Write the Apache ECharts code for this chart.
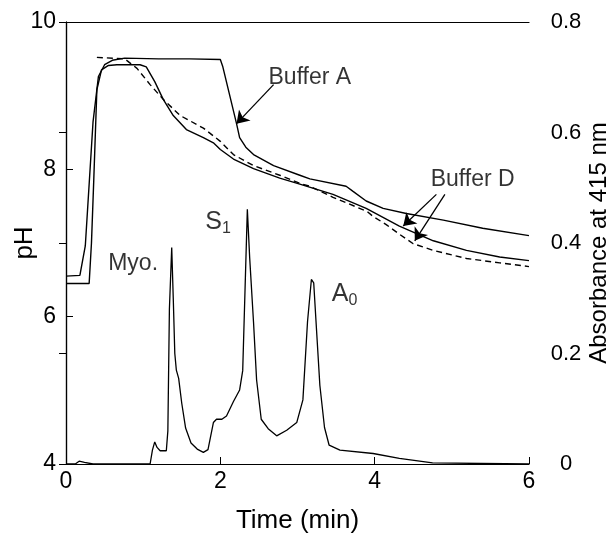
<!DOCTYPE html>
<html><head><meta charset="utf-8">
<script src="https://cdn.jsdelivr.net/npm/echarts@6/dist/echarts.min.js"></script>
<style>html,body{margin:0;padding:0;background:#fff}#c{width:613px;height:540px}</style>
</head><body><div id="c"></div>
<script>
// Time (min) vs pH — Buffer A (solid, upper)
const bufferA = [[0,6.55],[0.18,6.56],[0.25,6.96],[0.35,8.64],[0.42,9.26],[0.5,9.42],[0.6,9.48],[0.76,9.51],[1.2,9.5],[1.6,9.5],[2.0,9.49],[2.03,9.4],[2.21,8.62],[2.25,8.43],[2.33,8.3],[2.43,8.2],[2.69,8.05],[3.03,7.92],[3.16,7.87],[3.63,7.77],[3.72,7.7],[3.89,7.57],[4.11,7.47],[4.41,7.4],[4.89,7.31],[5.4,7.2],[6.0,7.1]];
// Buffer D (solid, middle)
const bufferDSolid = [[0,6.45],[0.3,6.45],[0.33,7.0],[0.36,7.86],[0.4,9.08],[0.46,9.35],[0.55,9.41],[0.66,9.42],[0.96,9.42],[1.04,9.39],[1.15,9.19],[1.26,8.95],[1.39,8.73],[1.56,8.54],[1.78,8.43],[1.91,8.36],[2.0,8.27],[2.17,8.14],[2.43,8.01],[2.77,7.88],[3.03,7.8],[3.46,7.66],[3.89,7.47],[4.32,7.23],[4.76,7.03],[5.19,6.9],[5.62,6.81],[6.0,6.76]];
// Buffer D (dashed)
const bufferDDashed = [[0.4,9.52],[0.76,9.5],[0.92,9.37],[1.09,9.15],[1.26,8.95],[1.48,8.73],[1.78,8.56],[2.0,8.38],[2.17,8.2],[2.43,8.05],[2.77,7.92],[3.03,7.81],[3.16,7.77],[3.46,7.62],[3.9,7.43],[3.98,7.36],[4.15,7.25],[4.32,7.12],[4.5,6.99],[4.76,6.9],[5.19,6.79],[5.62,6.73],[6.0,6.68]];
// Absorbance at 415 nm
const absorbance = [[0,0],[0.12,0],[0.17,0.005],[0.24,0.003],[0.35,0],[1.09,0],[1.12,0.025],[1.15,0.04],[1.18,0.03],[1.22,0.024],[1.3,0.024],[1.32,0.06],[1.34,0.28],[1.37,0.392],[1.39,0.3],[1.41,0.2],[1.43,0.17],[1.46,0.155],[1.5,0.11],[1.55,0.065],[1.62,0.038],[1.7,0.027],[1.78,0.021],[1.84,0.026],[1.91,0.075],[1.95,0.081],[2.02,0.081],[2.08,0.087],[2.17,0.113],[2.25,0.134],[2.29,0.169],[2.32,0.315],[2.35,0.461],[2.38,0.374],[2.43,0.257],[2.47,0.152],[2.53,0.081],[2.62,0.064],[2.73,0.051],[2.86,0.061],[2.99,0.075],[3.07,0.116],[3.13,0.258],[3.18,0.334],[3.21,0.328],[3.24,0.258],[3.29,0.142],[3.35,0.066],[3.41,0.034],[3.55,0.025],[3.98,0.019],[4.32,0.01],[4.75,0.002],[6.0,0]];
// Annotations: [time, pH, text]
const annotations = [[3.16,9.24,'Buffer A'],[5.27,7.86,'Buffer D'],[0.87,6.72,'Myo.'],[1.97,7.29,'{b|S}{s|1}'],[3.61,6.31,'{b|A}{s|0}']];
// Arrows: [[t1,pH1],[t2,pH2]]
const arrows = [[[2.69,9.15],[2.21,8.62]],[[4.8,7.66],[4.37,7.23]],[[4.91,7.66],[4.52,7.03]]];
const xTicks = [0,2,4,6];
const phTicks = [4,6,8,10];
const absTicks = [0,0.2,0.4,0.6,0.8];

const FONT = '"Liberation Sans", Arial, sans-serif';
const chart = echarts.init(document.getElementById('c'), null, {renderer:'canvas'});
const lineStyle = {color:'#000', width:1.4};
chart.setOption({
  animation:false,
  backgroundColor:'#fff',
  grid:{left:66, right:84, top:22, bottom:76, containLabel:false, outerBoundsMode:'none'},
  xAxis:[{
    type:'value', min:0, max:6, interval:2,
    name:'Time (min)', nameLocation:'middle', nameGap:44, nameMoveOverlap:false,
    nameTextStyle:{fontFamily:FONT, fontSize:26, color:'#000'},
    axisLine:{lineStyle:{color:'#000', width:1.2}},
    axisTick:{inside:true, length:7, lineStyle:{color:'#000'}},
    axisLabel:{fontFamily:FONT, fontSize:23, color:'#000', margin:6,
      formatter:v=>xTicks.includes(v)?String(v):''},
    splitLine:{show:false}
  },{
    type:'value', min:0, max:6, position:'top',
    axisLine:{show:true, lineStyle:{color:'#000', width:1.2}},
    axisTick:{show:false}, axisLabel:{show:false}, splitLine:{show:false}
  }],
  yAxis:[{
    type:'value', min:4, max:10, interval:2,
    name:'pH', nameLocation:'middle', nameGap:28, nameRotate:90, nameMoveOverlap:false,
    nameTextStyle:{fontFamily:FONT, fontSize:26, color:'#000'},
    axisLine:{show:true, lineStyle:{color:'#000', width:1.2}},
    axisTick:{inside:true, length:7, lineStyle:{color:'#000'}},
    axisLabel:{fontFamily:FONT, fontSize:23, color:'#000', margin:10,
      formatter:v=>phTicks.includes(v)?String(v):''},
    splitLine:{show:false}
  },{
    type:'value', min:0, max:0.8, interval:0.2, position:'right',
    name:'Absorbance at 415 nm', nameLocation:'middle', nameGap:58, nameRotate:90, nameMoveOverlap:false,
    nameTextStyle:{fontFamily:FONT, fontSize:24, color:'#000'},
    axisLine:{show:true, lineStyle:{color:'#000', width:1.2}},
    axisTick:{inside:true, length:7, lineStyle:{color:'#000'}},
    axisLabel:{fontFamily:FONT, fontSize:22, color:'#000', margin:37, align:'center',
      formatter:v=>{const t=absTicks.find(a=>Math.abs(a-v)<1e-9);return t===undefined?'':(t===0?'0':t.toFixed(1));}},
    splitLine:{show:false}
  }],
  series:[
    {type:'line', data:bufferA, showSymbol:false, lineStyle:lineStyle, z:3},
    {type:'line', data:bufferDSolid, showSymbol:false, lineStyle:lineStyle, z:3},
    {type:'line', data:bufferDDashed, showSymbol:false, lineStyle:{color:'#000', width:1.4, type:[6,4]}, z:3},
    {type:'line', data:absorbance, yAxisIndex:1, showSymbol:false, lineStyle:{color:'#000', width:1.3}, z:3},
    {type:'lines', coordinateSystem:'cartesian2d', polyline:false,
      symbol:['none','arrow'], symbolSize:[0,12],
      lineStyle:{color:'#000', width:1.3, opacity:1},
      data:arrows.map(a=>({coords:a})), z:4},
    {type:'scatter', symbolSize:0, z:5,
      data:annotations.map(a=>({value:[a[0],a[1]], label:{formatter:a[2]}})),
      label:{show:true, position:'inside', color:'#000', fontFamily:FONT, fontSize:23,
        rich:{b:{fontFamily:FONT, fontSize:25, color:'#000'}, s:{fontFamily:FONT, fontSize:16, color:'#000', padding:[14,0,0,0]}}}
    }
  ]
});
</script></body></html>
